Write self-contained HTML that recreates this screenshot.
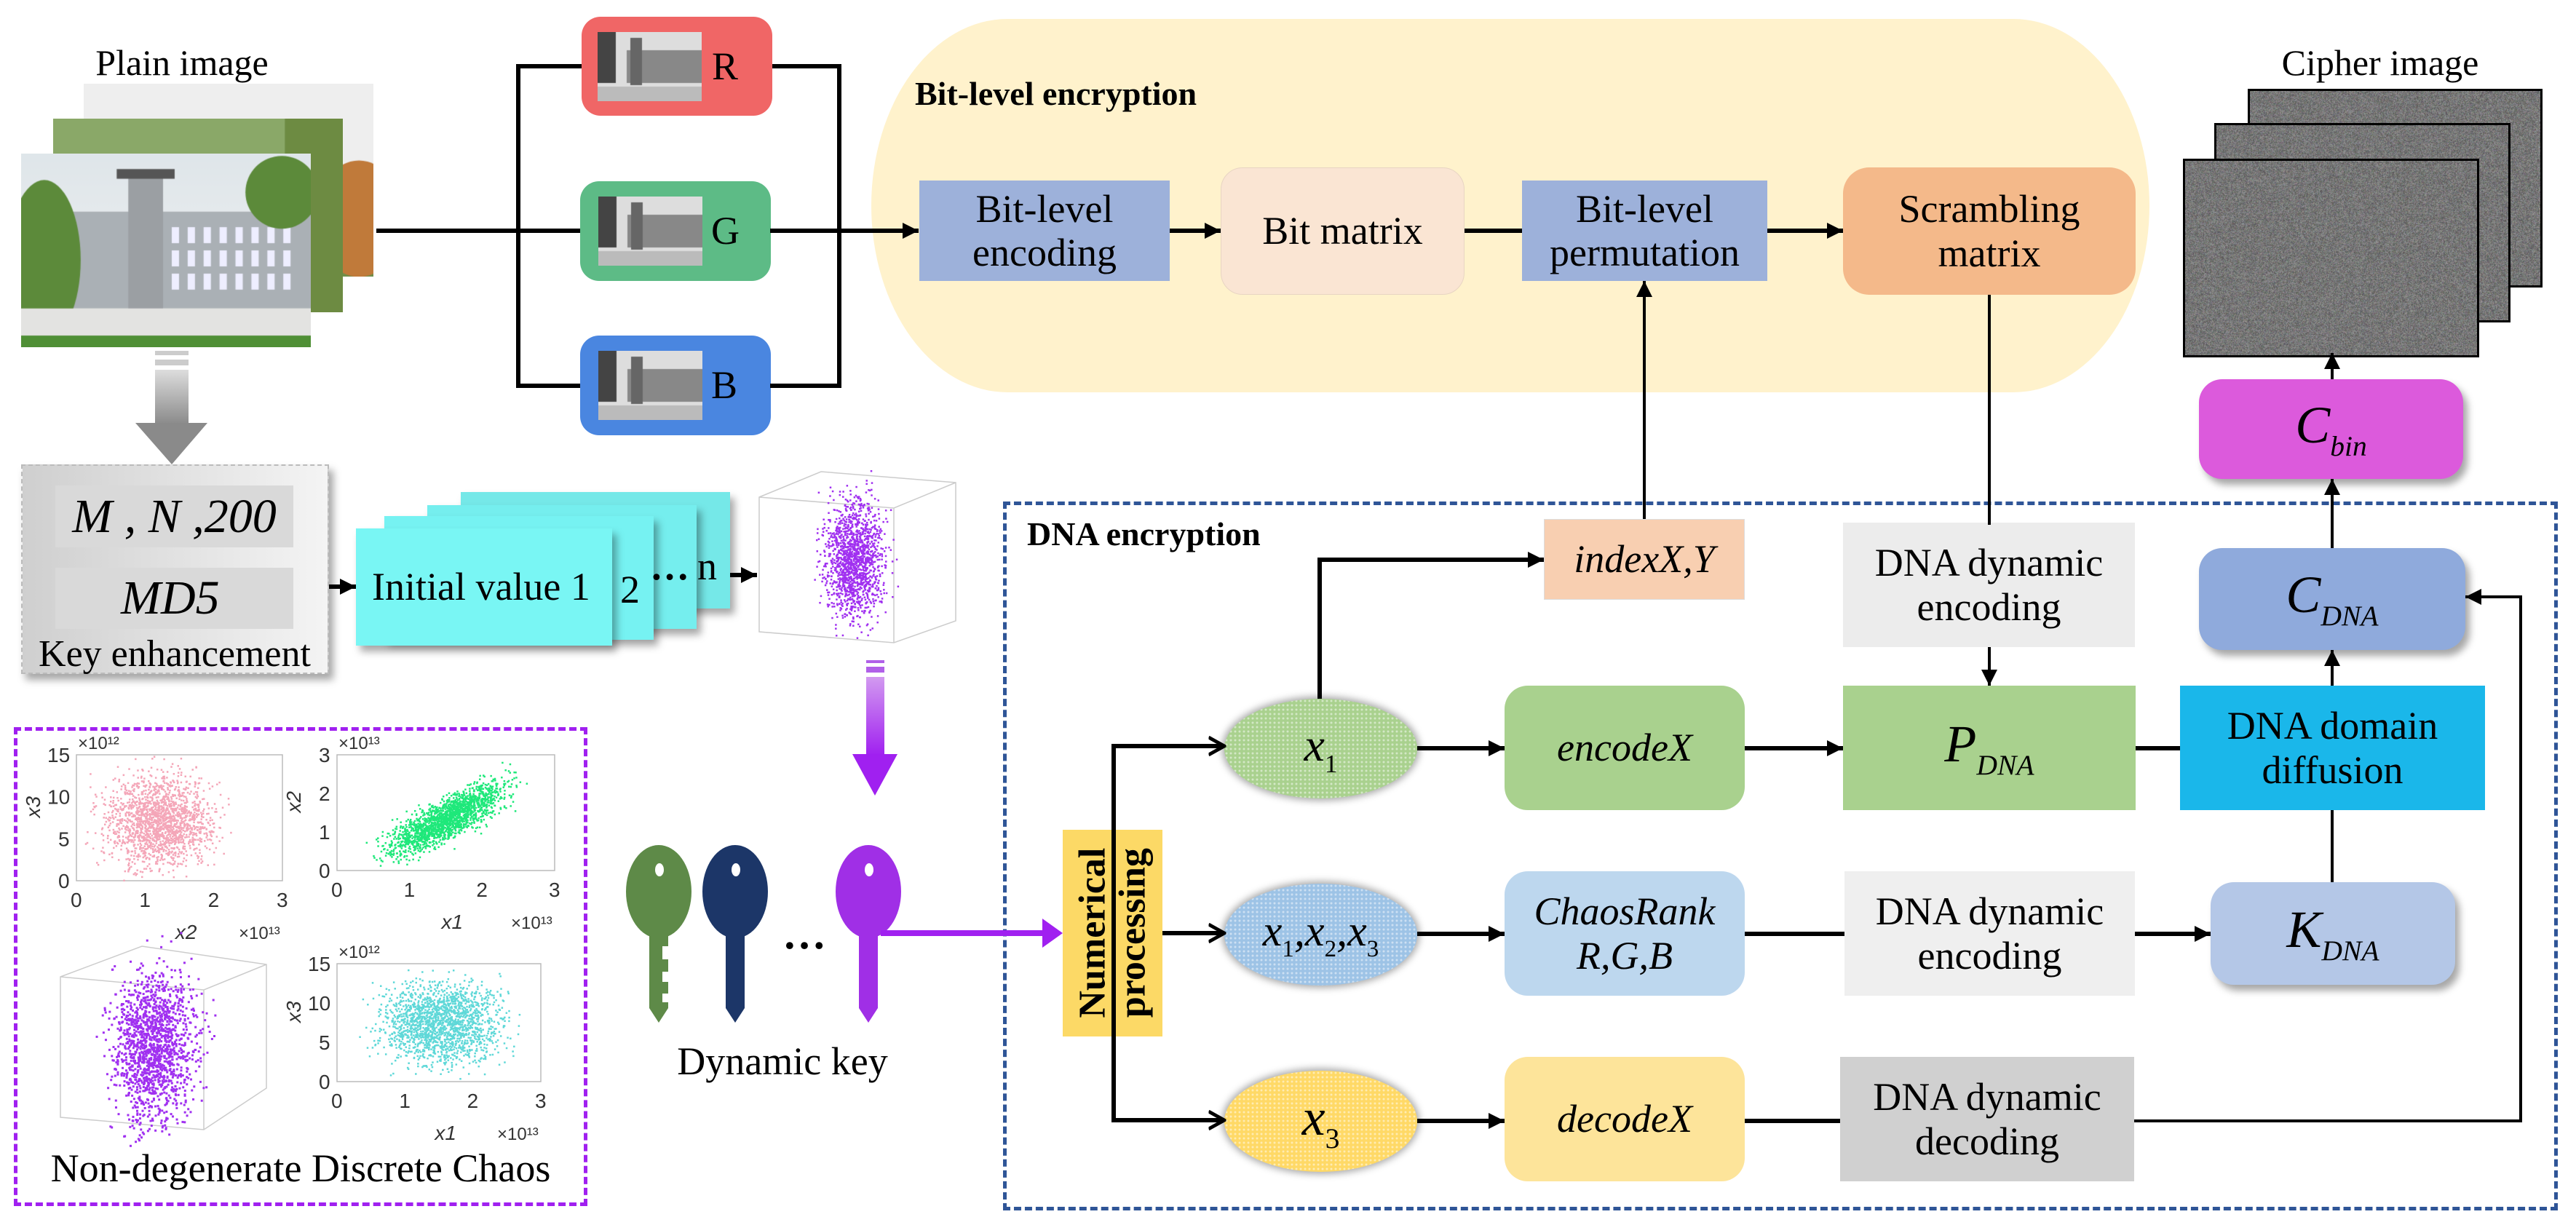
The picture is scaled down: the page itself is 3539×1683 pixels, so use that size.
<!DOCTYPE html>
<html><head><meta charset="utf-8">
<style>
html,body{margin:0;padding:0;background:#fff;}
body{width:3539px;height:1683px;position:relative;overflow:hidden;font-family:"Liberation Serif","DejaVu Serif",serif;color:#000;}
.a{position:absolute;box-sizing:border-box;display:flex;align-items:center;justify-content:center;text-align:center;font-size:54px;line-height:1.12;}
.i{font-style:italic;}
.sh{box-shadow:6px 8px 10px rgba(0,0,0,0.35);}
sub{font-size:0.55em;vertical-align:-0.45em;}
canvas,svg{position:absolute;}
</style></head><body>

<div class="a" style="left:1197px;top:26px;width:1756px;height:513px;background:#fff2cc;border-radius:190px/260px;"></div>
<div class="a" style="left:1257px;top:103px;font-weight:bold;font-size:46px;display:block;">Bit-level encryption</div>

<canvas id="p1" width="398" height="265" style="left:115px;top:115px;"></canvas>
<canvas id="p2" width="398" height="266" style="left:73px;top:163px;"></canvas>
<canvas id="p3" width="398" height="266" style="left:29px;top:211px;"></canvas>
<div class="a" style="left:120px;top:56px;width:260px;height:60px;font-size:50px;">Plain image</div>

<div class="a" style="left:799px;top:23px;width:262px;height:136px;background:#f06666;border-radius:26px;justify-content:flex-start;padding-left:22px;"><canvas class="g" width="143" height="95" style="position:static"></canvas><span style="margin-left:14px">R</span></div>
<div class="a" style="left:797px;top:249px;width:262px;height:137px;background:#5dbb86;border-radius:26px;justify-content:flex-start;padding-left:25px;"><canvas class="g" width="143" height="95" style="position:static"></canvas><span style="margin-left:12px">G</span></div>
<div class="a" style="left:797px;top:461px;width:262px;height:137px;background:#4a86e0;border-radius:26px;justify-content:flex-start;padding-left:25px;"><canvas class="g" width="143" height="95" style="position:static"></canvas><span style="margin-left:12px">B</span></div>

<div class="a" style="left:1263px;top:248px;width:344px;height:138px;background:#9db1da;">Bit-level<br>encoding</div>
<div class="a" style="left:1677px;top:230px;width:335px;height:175px;background:#fae5d3;border-radius:30px;border:1px solid #e8d5c3;">Bit matrix</div>
<div class="a" style="left:2091px;top:248px;width:337px;height:138px;background:#9db1da;">Bit-level<br>permutation</div>
<div class="a" style="left:2532px;top:230px;width:402px;height:175px;background:#f4b98a;border-radius:36px;">Scrambling<br>matrix</div>

<div class="a" style="left:3110px;top:56px;width:320px;height:60px;font-size:50px;">Cipher image</div>
<canvas id="c1" width="399" height="267" style="left:3088px;top:122px;border:3px solid #000;box-sizing:border-box;"></canvas>
<canvas id="c2" width="401" height="268" style="left:3042px;top:169px;border:3px solid #000;box-sizing:border-box;"></canvas>
<canvas id="c3" width="401" height="267" style="left:2999px;top:218px;border:3px solid #000;box-sizing:border-box;"></canvas>
<div class="a sh i" style="left:3021px;top:521px;width:363px;height:137px;background:#dc5adc;border-radius:32px;font-size:72px;"><span>C<sub>bin</sub></span></div>

<div class="a sh" style="left:29px;top:638px;width:423px;height:288px;background:linear-gradient(90deg,#cfcfcf,#f4f4f4);border:2px dashed #bbb;"></div>
<div class="a i" style="left:76px;top:667px;width:327px;height:85px;background:#d9d9d9;font-size:66px;">M , N ,200</div>
<div class="a i" style="left:76px;top:780px;width:327px;height:84px;background:#d9d9d9;font-size:66px;justify-content:flex-start;padding-left:90px;">MD5</div>
<div class="a" style="left:20px;top:872px;width:440px;height:54px;font-size:52px;">Key enhancement</div>

<div class="a sh" style="left:633px;top:676px;width:370px;height:160px;background:#75e8e8;"></div>
<div class="a sh" style="left:587px;top:694px;width:370px;height:170px;background:#75eeee;"></div>
<div class="a sh" style="left:528px;top:709px;width:370px;height:170px;background:#76f2f2;"></div>
<div class="a sh" style="left:489px;top:726px;width:352px;height:161px;background:#79f6f4;font-size:54px;justify-content:flex-start;padding-left:22px;">Initial value 1</div>
<div class="a" style="left:852px;top:780px;font-size:54px;">2</div>
<div class="a" style="left:893px;top:748px;font-size:54px;font-weight:bold;">…</div>
<div class="a" style="left:958px;top:748px;font-size:54px;">n</div>

<svg id="cube" width="280" height="245" style="left:1038px;top:643px;"></svg>

<div style="position:absolute;left:19px;top:999px;width:788px;height:658px;border:5px dashed #a020f0;box-sizing:border-box;"></div>
<svg id="chaos" width="820" height="600" style="left:0;top:980px;" font-family="Liberation Sans, sans-serif"></svg>
<div class="a" style="left:10px;top:1575px;width:806px;height:60px;font-size:54px;">Non-degenerate Discrete Chaos</div>

<svg width="400" height="260" style="left:850px;top:1155px;">
 <g fill="#5e8a48"><ellipse cx="55" cy="70" rx="45" ry="64"/><path d="M42 70h26v160l-13 20-13-20z"/></g>
 <g fill="#fff"><rect x="60" y="145" width="10" height="18"/><rect x="60" y="180" width="10" height="14"/><rect x="60" y="210" width="10" height="12"/></g>
 <ellipse cx="56" cy="40" rx="6" ry="9" fill="#fff"/>
 <g fill="#1c3668"><ellipse cx="160" cy="70" rx="45" ry="64"/><path d="M147 70h26v160l-13 20-13-20z"/></g>
 <ellipse cx="161" cy="40" rx="6" ry="9" fill="#fff"/>
 <text x="225" y="148" font-size="60" font-weight="bold" font-family="Liberation Serif">…</text>
 <g fill="#a02fe6"><ellipse cx="343" cy="70" rx="45" ry="64"/><path d="M330 70h26v160l-13 20-13-20z"/></g>
 <ellipse cx="344" cy="40" rx="6" ry="9" fill="#fff"/>
</svg>
<div class="a" style="left:890px;top:1428px;width:370px;height:60px;font-size:54px;">Dynamic key</div>

<div style="position:absolute;left:1378px;top:689px;width:2136px;height:974px;border:5px dashed #2f5597;box-sizing:border-box;"></div>
<div class="a" style="left:1411px;top:708px;font-weight:bold;font-size:46px;">DNA encryption</div>

<div class="a" style="left:1460px;top:1140px;width:137px;height:284px;background:#fcd966;"><div style="transform:rotate(-90deg);white-space:nowrap;font-size:52px;line-height:1.05;font-weight:bold;">Numerical<br>processing</div></div>

<div class="a i" style="left:2121px;top:713px;width:276px;height:111px;background:#f8cfb1;border:1px solid #ddd;font-size:54px;">indexX,Y</div>
<div class="a" style="left:2532px;top:718px;width:401px;height:171px;background:#ececec;">DNA dynamic<br>encoding</div>
<div class="a sh i" style="left:3021px;top:753px;width:366px;height:140px;background:#8faadc;border-radius:32px;font-size:72px;"><span>C<sub>DNA</sub></span></div>

<div class="a i" style="left:1682px;top:960px;width:265px;height:137px;border-radius:50%;background:#a9d18e;background-image:radial-gradient(circle,rgba(255,255,255,.5) 1px,transparent 2px);background-size:6px 6px;box-shadow:0 0 10px 3px rgba(0,0,0,.35);font-size:64px;"><span>x<sub style="font-style:normal">1</sub></span></div>
<div class="a i" style="left:1682px;top:1214px;width:265px;height:140px;border-radius:50%;background:#9dc3e6;background-image:radial-gradient(circle,rgba(255,255,255,.5) 1px,transparent 2px);background-size:6px 6px;box-shadow:0 0 10px 3px rgba(0,0,0,.35);font-size:60px;"><span>x<sub style="font-style:normal">1</sub>,x<sub style="font-style:normal">2</sub>,x<sub style="font-style:normal">3</sub></span></div>
<div class="a i" style="left:1682px;top:1471px;width:265px;height:139px;border-radius:50%;background:#ffd966;background-image:radial-gradient(circle,rgba(255,255,255,.5) 1px,transparent 2px);background-size:6px 6px;box-shadow:0 0 10px 3px rgba(0,0,0,.35);font-size:72px;"><span>x<sub style="font-style:normal">3</sub></span></div>

<div class="a i" style="left:2067px;top:942px;width:330px;height:171px;background:#a9d18e;border-radius:32px;">encodeX</div>
<div class="a i" style="left:2532px;top:942px;width:402px;height:171px;background:#a9d18e;font-size:72px;"><span>P<sub>DNA</sub></span></div>
<div class="a" style="left:2995px;top:942px;width:419px;height:171px;background:#1ab7ea;">DNA domain<br>diffusion</div>

<div class="a i" style="left:2067px;top:1197px;width:330px;height:171px;background:#bdd7ee;border-radius:32px;">ChaosRank<br>R,G,B</div>
<div class="a" style="left:2534px;top:1197px;width:399px;height:171px;background:#efefef;">DNA dynamic<br>encoding</div>
<div class="a sh i" style="left:3037px;top:1212px;width:336px;height:141px;background:#b4c7e7;border-radius:32px;font-size:72px;"><span>K<sub>DNA</sub></span></div>

<div class="a i" style="left:2067px;top:1452px;width:330px;height:171px;background:#fde49a;border-radius:32px;">decodeX</div>
<div class="a" style="left:2528px;top:1452px;width:404px;height:171px;background:#d0d0d0;">DNA dynamic<br>decoding</div>

<svg width="3539" height="1683" style="left:0;top:0;pointer-events:none;">
<defs>
<marker id="a2" viewBox="0 0 10 10" refX="10" refY="5" markerWidth="22" markerHeight="26" orient="auto" markerUnits="userSpaceOnUse"><path d="M0 0L10 5L0 10z"/></marker>
<marker id="a3" viewBox="0 0 10 10" refX="9" refY="5" markerWidth="24" markerHeight="40" orient="auto" markerUnits="userSpaceOnUse"><path d="M0 0L9 5L0 10" fill="none" stroke="#000" stroke-width="2"/></marker>
<linearGradient id="gg" x1="0" y1="0" x2="0" y2="1"><stop offset="0" stop-color="#ddd"/><stop offset="1" stop-color="#8a8a8a"/></linearGradient>
<linearGradient id="pg" x1="0" y1="0" x2="0" y2="1"><stop offset="0" stop-color="#d29af0"/><stop offset="1" stop-color="#a020f0"/></linearGradient>
</defs>
<g stroke="#000" fill="none" stroke-width="6">
<path d="M517 317H797"/>
<path d="M799 91H712V530H797"/>
<path d="M1061 91H1153V530H1058"/>
<path d="M1058 317H1262" marker-end="url(#a2)"/>
<path d="M1607 317H1677" marker-end="url(#a2)"/>
<path d="M2012 317H2091"/>
<path d="M2428 317H2532" marker-end="url(#a2)"/>
<path d="M1597 1282H1682" marker-end="url(#a3)"/>
<path d="M1530 1282V1025H1682" marker-end="url(#a3)"/>
<path d="M1530 1282V1539H1682" marker-end="url(#a3)"/>
<path d="M1947 1028H2067" marker-end="url(#a2)"/>
<path d="M1947 1283H2067" marker-end="url(#a2)"/>
<path d="M1947 1540H2067" marker-end="url(#a2)"/>
<path d="M2397 1028H2532" marker-end="url(#a2)"/>
<path d="M2934 1028H2995"/>
<path d="M2397 1283H2534"/>
<path d="M2933 1283H3037" marker-end="url(#a2)"/>
<path d="M2397 1540H2528"/>
<path d="M1813 960V769H2121" marker-end="url(#a2)"/>
<path d="M452 806H489" marker-end="url(#a2)"/>
<path d="M1003 790H1040" marker-end="url(#a2)"/>
</g>
<g stroke="#000" fill="none" stroke-width="4">
<path d="M2932 1540H3463V820H3387" marker-end="url(#a2)"/>
<path d="M2259 713V386" marker-end="url(#a2)"/>
<path d="M2733 405V721"/>
<path d="M2733 889V942" marker-end="url(#a2)"/>
<path d="M3204 942V893" marker-end="url(#a2)"/>
<path d="M3204 1212V1113"/>
<path d="M3204 753V658" marker-end="url(#a2)"/>
<path d="M3204 521V485" marker-end="url(#a2)"/>
</g>
<rect x="213" y="482" width="46" height="6" fill="#ccc"/><rect x="213" y="494" width="46" height="8" fill="#ccc"/>
<rect x="213" y="508" width="46" height="75" fill="url(#gg)"/>
<path d="M186 581H285L236 638z" fill="#8a8a8a"/>
<rect x="1190" y="907" width="25" height="4" fill="#b060e8"/><rect x="1190" y="916" width="25" height="8" fill="#b060e8"/>
<rect x="1190" y="930" width="25" height="108" fill="url(#pg)"/>
<path d="M1171 1036H1233L1202 1093z" fill="#a020f0"/>
<path d="M1210 1282H1440" stroke="#a020f0" stroke-width="8"/>
<path d="M1432 1262L1460 1282L1432 1302z" fill="#a020f0"/>
</svg>

<script>
function rnd(s){return function(){s=(s*16807)%2147483647;return (s-1)/2147483646;}}
var R=rnd(12345);
function gauss(){return (R()+R()+R()+R()-2)/0.58;}
function plain(id,kind){var c=document.getElementById(id),x=c.getContext('2d'),w=c.width,h=c.height;
 if(kind==0){x.fillStyle='#eee';x.fillRect(0,0,w,h);x.fillStyle='#6f8f4a';x.fillRect(0,h*0.45,w,h*0.55);x.fillStyle='#c07a3a';x.beginPath();x.ellipse(w*0.95,h*0.7,60,80,0,0,7);x.fill();return;}
 if(kind==1){x.fillStyle='#8aa868';x.fillRect(0,0,w,h);x.fillStyle='#c9c3b0';x.fillRect(0,h*0.3,w,h*0.7);x.fillStyle='#6d8b42';x.fillRect(w*0.8,0,w*0.2,h);return;}
 var g=x.createLinearGradient(0,0,0,h);g.addColorStop(0,'#dfe6ea');g.addColorStop(1,'#f1f1f1');x.fillStyle=g;x.fillRect(0,0,w,h);
 x.fillStyle='#aab0b5';x.fillRect(w*0.15,h*0.3,w*0.85,h*0.5);x.fillStyle='#9b9fa3';x.fillRect(w*0.37,h*0.1,w*0.12,h*0.7);
 x.fillStyle='#555';x.fillRect(w*0.33,h*0.08,w*0.2,h*0.05);
 x.fillStyle='#eef';for(var i=0;i<8;i++)for(var j=0;j<3;j++)x.fillRect(w*(0.52+i*0.055),h*(0.38+j*0.12),10,22);
 x.fillStyle='#5c8a3a';x.beginPath();x.ellipse(w*0.08,h*0.55,50,110,0,0,7);x.fill();x.beginPath();x.ellipse(w*0.9,h*0.2,50,50,0,0,7);x.fill();
 x.fillStyle='#e3e3e1';x.fillRect(0,h*0.8,w,h*0.15);x.fillStyle='#4f8f35';x.fillRect(0,h*0.94,w,h*0.06);}
plain('p1',0);plain('p2',1);plain('p3',2);
document.querySelectorAll('canvas.g').forEach(function(c){var x=c.getContext('2d');x.fillStyle='#ddd';x.fillRect(0,0,143,95);x.fillStyle='#888';x.fillRect(40,25,103,45);x.fillStyle='#666';x.fillRect(45,8,16,65);x.fillStyle='#444';x.fillRect(0,0,25,70);x.fillStyle='#bbb';x.fillRect(0,75,143,20);});
['c1','c2','c3'].forEach(function(id){var c=document.getElementById(id),x=c.getContext('2d'),w=c.width,h=c.height,d=x.createImageData(w,h);for(var i=0;i<w*h;i++){var v=118+(R()-0.5)*60;d.data[i*4]=v+(R()-0.5)*20;d.data[i*4+1]=v+(R()-0.5)*20;d.data[i*4+2]=v+(R()-0.5)*20;d.data[i*4+3]=255;}x.putImageData(d,0,0);});
var NS='http://www.w3.org/2000/svg',S=document.getElementById('chaos');
function el(n,a,p){var e=document.createElementNS(NS,n);for(var k in a)e.setAttribute(k,a[k]);(p||S).appendChild(e);return e;}
function txt(x,y,s,sz,extra){var t=el('text',Object.assign({x:x,y:y,'font-size':sz||22,fill:'#333'},extra||{}));t.textContent=s;return t;}
function plot(x0,y0,x1,y1,col,fn,n,yt,ylab,xlab,ex){el('rect',{x:x0,y:y0-980,width:x1-x0,height:y1-y0,fill:'none',stroke:'#bbb','stroke-width':1.5});
 for(var i=0;i<n;i++){var p=fn();if(p[0]<0||p[0]>1||p[1]<0||p[1]>1)continue;el('rect',{x:x0+p[0]*(x1-x0),y:y0-980+p[1]*(y1-y0),width:2.5,height:2.5,fill:col});}
 for(var k=0;k<4;k++){txt(x0+k*(x1-x0)/3-8,y1-980+36,''+k,28);}
 for(var k=0;k<yt.length;k++){txt(x0-10-yt[k].length*15,y1-980-k*(y1-y0)/(yt.length-1)+10,yt[k],28);}
 txt(x0+2,y0-980-8,ex,24);txt(x1-60,y1-980+80,'×10¹³',24);
 txt(x0+(x1-x0)*0.48,y1-980+80,xlab,28,{'font-style':'italic'});
 el('text',{x:x0-50,y:(y0+y1)/2-980,'font-size':28,'font-style':'italic',fill:'#333',transform:'rotate(-90 '+(x0-50)+' '+((y0+y1)/2-980)+')'}).textContent=ylab;}
plot(105,1037,388,1210,'#f4a6b8',function(){return [0.4+gauss()*0.13,0.52+gauss()*0.18];},1800,['0','5','10','15'],'x3','x2','×10¹²');
plot(463,1037,762,1196,'#1ee87a',function(){var a=gauss(),b=gauss();return [0.5+a*0.13,0.55-a*0.12-b*0.09];},1800,['0','1','2','3'],'x2','x1','×10¹³');
plot(463,1324,743,1486,'#5fd8d8',function(){return [0.5+gauss()*0.14,0.5+gauss()*0.17];},1800,['0','5','10','15'],'x3','x1','×10¹²');
el('path',{d:'M83 362L195 320L366 345L366 515L280 572L83 555Z M83 362L280 380L366 345 M280 380V572',fill:'none',stroke:'#ccc','stroke-width':1.5});
for(var i=0;i<1500;i++){el('rect',{x:210+gauss()*28,y:455+gauss()*52,width:3,height:3,fill:'#a030f0'});}
var C=document.getElementById('cube');
el('path',{d:'M5 40L90 5L275 20L275 210L190 240L5 225Z M5 40L190 55L275 20 M190 55V240',fill:'none',stroke:'#ccc','stroke-width':1.5},C);
for(var i=0;i<1500;i++){el('rect',{x:135+gauss()*20,y:125+gauss()*40,width:2.5,height:2.5,fill:'#a030f0'},C);}
</script>
</body></html>
